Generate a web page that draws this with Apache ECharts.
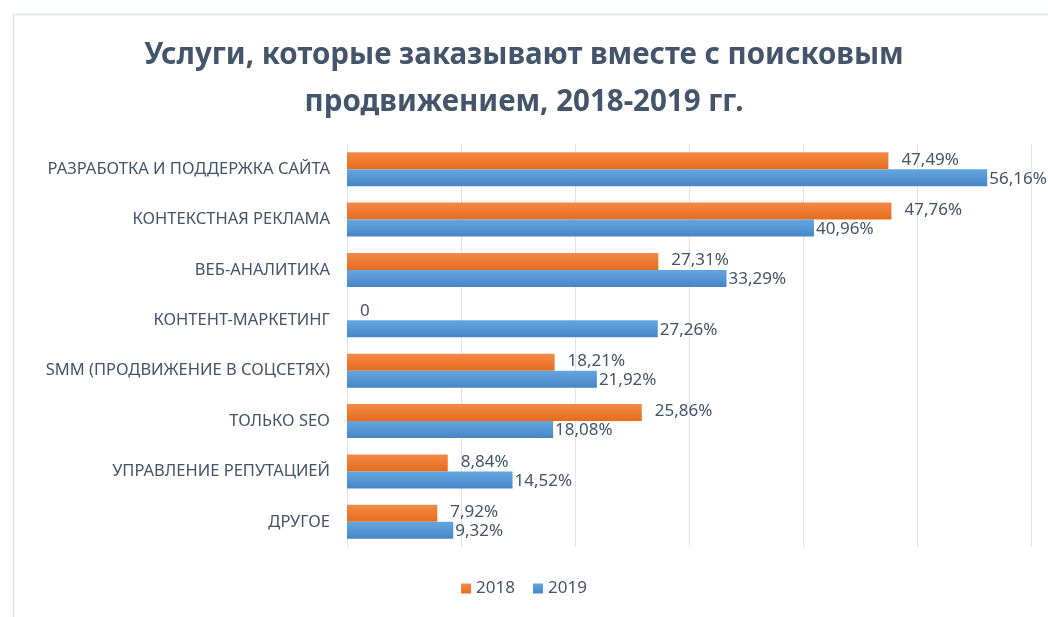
<!DOCTYPE html>
<html>
<head>
<meta charset="utf-8">
<script src="https://cdn.jsdelivr.net/npm/echarts@6/dist/echarts.min.js"></script>
<style>
  html, body { margin: 0; padding: 0; background: #fff; }
  #main { width: 1048px; height: 617px; }
</style>
</head>
<body>
<div id="main"></div>
<script>
var categories = [
    'РАЗРАБОТКА И ПОДДЕРЖКА САЙТА',
    'КОНТЕКСТНАЯ РЕКЛАМА',
    'ВЕБ-АНАЛИТИКА',
    'КОНТЕНТ-МАРКЕТИНГ',
    'SMM (ПРОДВИЖЕНИЕ В СОЦСЕТЯХ)',
    'ТОЛЬКО SEO',
    'УПРАВЛЕНИЕ РЕПУТАЦИЕЙ',
    'ДРУГОЕ'
];
var values2018 = [47.49, 47.76, 27.31, 0, 18.21, 25.86, 8.84, 7.92];
var values2019 = [56.16, 40.96, 33.29, 27.26, 21.92, 18.08, 14.52, 9.32];

var textColor = '#44546a';
var font = 'Noto Sans';

function grad(top, bottom) {
    return new echarts.graphic.LinearGradient(0, 0, 0, 1, [
        {offset: 0, color: top},
        {offset: 1, color: bottom}
    ]);
}

function fmt(p) {
    if (p.value === 0) return '0';
    return p.value.toFixed(2).replace('.', ',') + '%';
}

var chart = echarts.init(document.getElementById('main'));
var option = {
    backgroundColor: '#ffffff',
    animation: false,
    title: {
        text: 'Услуги, которые заказывают вместе с поисковым\nпродвижением, 2018-2019 гг.',
        left: 'center',
        top: 27,
        textStyle: {
            color: textColor,
            fontFamily: font,
            fontWeight: 'bold',
            fontSize: 29.5,
            lineHeight: 47
        }
    },
    legend: {
        bottom: 15,
        left: 'center',
        itemWidth: 10,
        itemHeight: 10,
        itemGap: 18,
        icon: 'rect',
        textStyle: {color: textColor, fontFamily: font, fontSize: 17},
        data: ['2018', '2019']
    },
    grid: {
        left: 347,
        right: 17,
        top: 144,
        bottom: 70,
        containLabel: false
    },
    xAxis: {
        type: 'value',
        min: 0,
        max: 60,
        interval: 10,
        axisLabel: {show: false},
        axisLine: {show: false},
        axisTick: {show: false},
        splitLine: {lineStyle: {color: '#dfe3ea', width: 1}}
    },
    yAxis: {
        type: 'category',
        inverse: true,
        data: categories,
        axisLine: {show: false},
        axisTick: {show: false},
        axisLabel: {
            color: textColor,
            fontFamily: font,
            fontSize: 16.5,
            margin: 17
        }
    },
    series: [
        {
            name: '2018',
            type: 'bar',
            data: values2018,
            barWidth: 17,
            barGap: '0%',
            itemStyle: {color: grad('#f38a48', '#e66c1c')},
            label: {
                show: true,
                position: 'right',
                distance: 13,
                offset: [0, -1],
                formatter: fmt,
                color: textColor,
                fontFamily: font,
                fontSize: 17
            }
        },
        {
            name: '2019',
            type: 'bar',
            data: values2019,
            barWidth: 17,
            barGap: '0%',
            itemStyle: {color: grad('#64a6e0', '#4686c8')},
            label: {
                show: true,
                position: 'right',
                distance: 2,
                offset: [0, 1],
                formatter: fmt,
                color: textColor,
                fontFamily: font,
                fontSize: 17
            }
        }
    ],
    graphic: [
        {
            type: 'rect',
            left: 11,
            top: 12,
            shape: {width: 1200, height: 800},
            style: {fill: 'none', stroke: '#dde3ea', lineWidth: 1.5},
            silent: true
        }
    ]
};
chart.setOption(option);
</script>
</body>
</html>
